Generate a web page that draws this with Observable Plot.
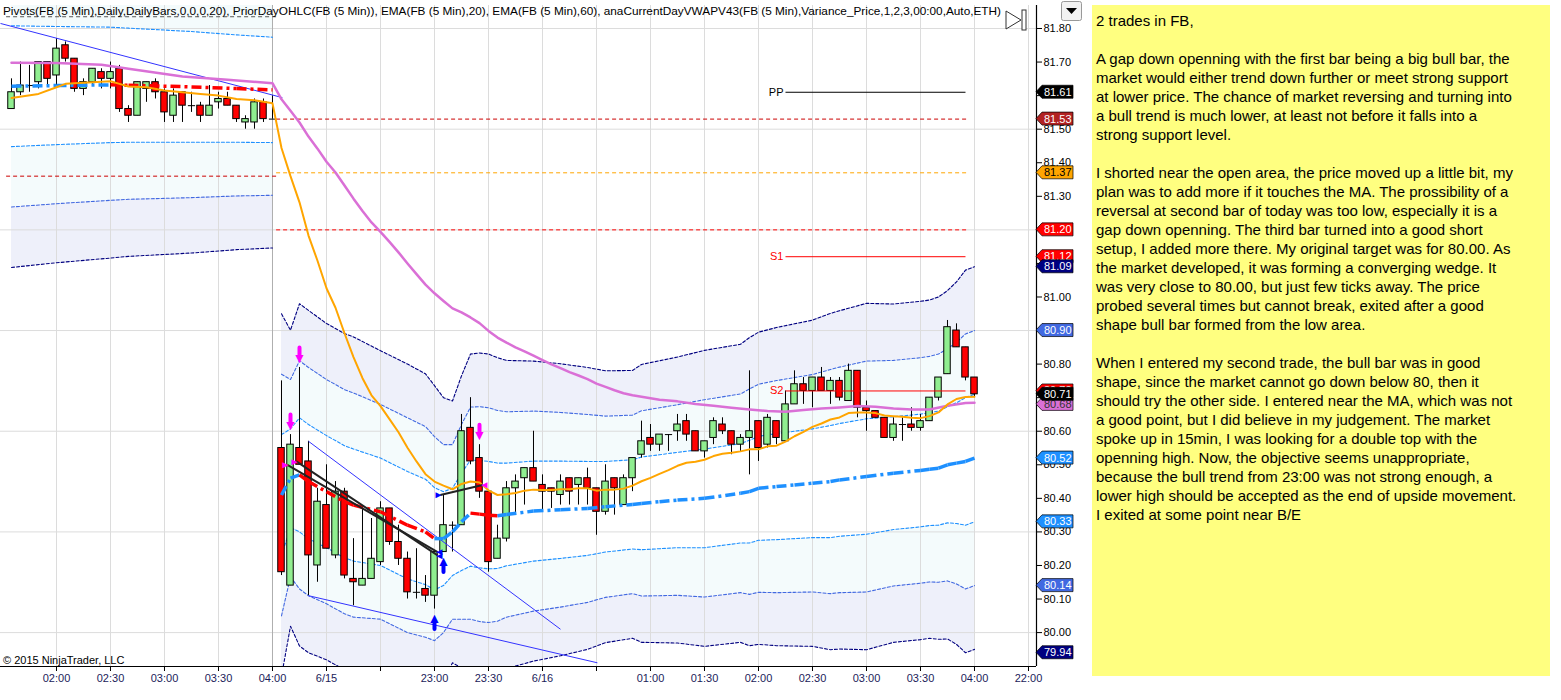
<!DOCTYPE html>
<html><head><meta charset="utf-8">
<script src="https://cdn.jsdelivr.net/npm/d3@7"></script>
<script src="https://cdn.jsdelivr.net/npm/@observablehq/plot@0.6"></script>
<style>
body{margin:0;background:#fff;font-family:"Liberation Sans",Arial,sans-serif;}
#wrap{position:relative;width:1561px;height:700px;overflow:hidden;background:#fff}
#chart{position:absolute;left:0;top:0}
#overlay{position:absolute;left:0;top:0}
#copy{position:absolute;left:3px;top:654px;font:11px "Liberation Sans",Arial,sans-serif;color:#000;white-space:nowrap}
#note{position:absolute;left:1092px;top:5px;width:458px;height:671px;background:#FFFF80;box-sizing:border-box;padding:6px 0 0 4px;font:15px/19px "Liberation Sans",Arial,sans-serif;white-space:pre;color:#000;overflow:hidden}
</style></head>
<body>
<div id="wrap">
<div id="chart"></div>
<svg id="overlay" width="1090" height="40" style="pointer-events:none">
 <text x="3" y="15" font-family="Liberation Sans, Arial, sans-serif" font-size="11" fill="#000" textLength="998" lengthAdjust="spacingAndGlyphs">Pivots(FB (5 Min),Daily,DailyBars,0,0,0,20), PriorDayOHLC(FB (5 Min)), EMA(FB (5 Min),20), EMA(FB (5 Min),60), anaCurrentDayVWAPV43(FB (5 Min),Variance_Price,1,2,3,00:00,Auto,ETH)</text>
 <polygon points="1006,11 1021,20 1006,29" fill="#fff" stroke="#333" stroke-width="1"/>
 <rect x="1022" y="10" width="4" height="20" fill="#fff" stroke="#333" stroke-width="1"/>
 <rect x="1061.5" y="1.5" width="20" height="19" rx="2" fill="#F2F2F2" stroke="#999"/>
 <polygon points="1066,8 1077,8 1071.5,14" fill="#000"/>
</svg>
<div id="copy">© 2015 NinjaTrader, LLC</div>
<div id="note"></div>
</div>
<script>
// ---------------- data ----------------
const opens = [81.56,81.61,81.63,81.64,81.70,81.66,81.75,81.71,81.62,81.64,81.67,81.65,81.68,81.56,81.54,81.62,81.64,81.61,81.54,81.61,81.57,81.57,81.54,81.58,81.59,81.57,81.52,81.52,81.58,81.53,
80.55,80.14,80.55,80.51,80.20,80.38,80.23,80.42,80.16,80.14,80.16,80.21,80.37,80.27,80.22,80.12,80.13,80.11,80.24,80.32,80.32,80.61,80.52,80.42,80.22,80.28,80.43,80.46,80.49,80.44,80.43,80.41,80.46,80.44,80.46,80.43,80.36,80.46,80.38,80.46,80.53,80.58,80.56,80.59,80.60,80.63,80.60,80.54,80.58,80.62,80.60,80.56,80.58,80.63,80.56,80.63,80.57,80.68,80.74,80.72,80.76,80.72,80.75,80.69,80.78,80.67,80.66,80.64,80.58,80.62,80.62,80.61,80.63,80.70,80.77,80.90,80.85,80.76];
const highs = [81.65,81.70,81.69,81.70,81.70,81.77,81.76,81.71,81.65,81.68,81.68,81.70,81.69,81.57,81.64,81.64,81.65,81.62,81.62,81.61,81.61,81.58,81.63,81.61,81.61,81.57,81.54,81.59,81.59,81.60,
80.75,80.59,80.79,80.57,80.43,80.50,80.45,80.43,80.28,80.37,80.34,80.39,80.37,80.32,80.24,80.25,80.17,80.24,80.41,80.33,80.65,80.70,80.56,80.42,80.32,80.45,80.47,80.49,80.60,80.47,80.43,80.47,80.46,80.46,80.49,80.43,80.50,80.46,80.47,80.52,80.63,80.62,80.59,80.59,80.65,80.65,80.60,80.57,80.64,80.64,80.60,80.59,80.78,80.63,80.65,80.63,80.72,80.78,80.76,80.76,80.79,80.76,80.76,80.80,80.78,80.69,80.66,80.64,80.64,80.64,80.67,80.65,80.70,80.76,80.93,80.92,80.85,80.76];
const lows = [81.56,81.60,81.61,81.62,81.63,81.63,81.70,81.61,81.60,81.63,81.62,81.62,81.55,81.52,81.54,81.58,81.59,81.52,81.52,81.52,81.55,81.52,81.54,81.56,81.57,81.52,81.50,81.50,81.52,81.53,
80.17,80.14,80.50,80.11,80.15,80.25,80.22,80.16,80.08,80.14,80.16,80.20,80.26,80.20,80.10,80.10,80.09,80.07,80.24,80.24,80.32,80.50,80.40,80.18,80.22,80.27,80.35,80.38,80.45,80.36,80.37,80.38,80.38,80.38,80.38,80.29,80.35,80.35,80.38,80.42,80.52,80.54,80.54,80.54,80.57,80.57,80.54,80.52,80.56,80.59,80.53,80.54,80.47,80.51,80.55,80.56,80.57,80.68,80.68,80.67,80.72,80.68,80.69,80.69,80.64,80.60,80.64,80.58,80.57,80.57,80.60,80.60,80.63,80.69,80.77,80.85,80.75,80.70];
const closes = [81.61,81.63,81.63,81.70,81.65,81.74,81.71,81.62,81.64,81.68,81.65,81.67,81.56,81.54,81.64,81.64,81.61,81.55,81.60,81.57,81.57,81.54,81.57,81.59,81.57,81.53,81.53,81.58,81.53,81.53,
80.18,80.56,80.50,80.23,80.39,80.25,80.42,80.17,80.15,80.16,80.22,80.37,80.27,80.22,80.12,80.12,80.11,80.24,80.32,80.32,80.60,80.51,80.42,80.21,80.28,80.43,80.45,80.49,80.45,80.42,80.42,80.45,80.42,80.46,80.43,80.36,80.45,80.43,80.46,80.52,80.57,80.56,80.59,80.59,80.62,80.59,80.54,80.57,80.63,80.60,80.56,80.58,80.60,80.55,80.64,80.58,80.68,80.74,80.72,80.76,80.72,80.75,80.70,80.78,80.67,80.66,80.64,80.58,80.62,80.62,80.61,80.63,80.70,80.76,80.91,80.85,80.76,80.71];
const sessionStartBar = 30; // first bar of 6/15 session

// EMA(20) orange
const ema20Bars = [0,3,5,6,9,11,12,13,15,17,19,21,23,25,27,29,
30,31,32,33,34,35,36,37,38,39,40,41,42,43,44,45,46,47,48,49,50,51,52,53,54,55,56,57,58,59,60,61,62,63,64,65,66,67,68,69,70,71,72,73,74,75,76,77,78,79,80,81,82,83,84,85,86,87,88,89,90,91,92,93,94,95,96,97,98,99,100,101,102,103,104,105,106,107];
const ema20Values = [81.593,81.605,81.625,81.635,81.640,81.643,81.635,81.627,81.625,81.615,81.610,81.605,81.600,81.590,81.586,81.577,
81.444,81.360,81.282,81.183,81.108,81.026,80.968,80.892,80.821,80.758,80.707,80.675,80.636,80.597,80.551,80.510,80.472,80.450,80.438,80.427,80.443,80.450,80.447,80.424,80.410,80.412,80.416,80.423,80.426,80.425,80.425,80.427,80.427,80.430,80.430,80.423,80.426,80.426,80.429,80.438,80.451,80.461,80.473,80.484,80.497,80.506,80.509,80.515,80.526,80.533,80.536,80.540,80.546,80.546,80.555,80.557,80.569,80.585,80.598,80.613,80.623,80.635,80.641,80.654,80.656,80.656,80.654,80.647,80.645,80.643,80.640,80.639,80.645,80.656,80.680,80.696,80.702,80.703];

// EMA(60) violet
const ema60Bars = [0,5,10,13,19,24,29,
30,31,32,33,34,35,36,37,38,39,40,41,42,43,44,45,46,47,48,49,50,51,52,53,54,55,56,57,58,59,60,61,62,63,64,65,66,67,68,69,70,72,74,76,78,80,82,84,86,88,90,92,94,96,98,100,102,104,106,107];
const ema60Values = [81.698,81.697,81.692,81.680,81.657,81.647,81.637,
81.589,81.555,81.520,81.478,81.442,81.403,81.371,81.332,81.293,81.256,81.222,81.194,81.164,81.133,81.100,81.068,81.037,81.011,80.988,80.966,80.954,80.939,80.922,80.899,80.879,80.864,80.850,80.838,80.825,80.812,80.799,80.788,80.776,80.766,80.755,80.742,80.732,80.722,80.713,80.707,80.703,80.694,80.689,80.681,80.676,80.670,80.665,80.660,80.658,80.663,80.668,80.671,80.675,80.673,80.668,80.665,80.665,80.676,80.684,80.685];

// Current-day VWAP and its standard deviation (bands at 1, 2, 3 sd)
const vwapBars = [0,5,11,13,20,25,29,
30,31,32,33,35,37,38,41,44,46,47,48,49,50,51,52,53,54,55,58,61,64,66,69,70,72,74,77,81,82,83,85,87,89,91,92,95,98,101,102,103,104,105,106,107];
const vwapValues = [81.628,81.630,81.632,81.631,81.626,81.621,81.617,
80.41,80.46,80.47,80.45,80.42,80.39,80.38,80.36,80.32,80.30,80.28,80.28,80.30,80.33,80.356,80.353,80.350,80.348,80.352,80.362,80.366,80.370,80.375,80.382,80.385,80.390,80.395,80.400,80.415,80.420,80.430,80.435,80.440,80.445,80.450,80.455,80.465,80.475,80.483,80.487,80.490,80.500,80.505,80.510,80.520];
const vwapSd = [0.180,0.176,0.172,0.170,0.165,0.160,0.157,
0.180,0.147,0.170,0.170,0.167,0.167,0.167,0.160,0.160,0.157,0.152,0.140,0.130,0.145,0.158,0.160,0.160,0.157,0.153,0.149,0.145,0.140,0.135,0.133,0.138,0.140,0.142,0.147,0.148,0.153,0.155,0.158,0.160,0.162,0.167,0.168,0.172,0.168,0.168,0.168,0.170,0.173,0.180,0.190,0.190];

// Prior-day OHLC levels (dashed)
const levelPrices = [81.835, 81.36, 81.53, 81.37, 81.20];
const levelFrom   = [-0.6, -0.6, 29.4, 29.4, 29.4];
const levelTo     = [29.4, 29.4, 106.3, 106.3, 106.3];
const levelColors = ["#555555", "#CC0000", "#CC0000", "#FFA500", "#FF0000"];

// Daily pivots
const pivotNames  = ["PP", "S1", "S2"];
const pivotPrices = [81.61, 81.12, 80.72];
const pivotColors = ["#000000", "#FF0000", "#FF0000"];
const pivotFrom = 86, pivotTo = 106;

// Drawn trend lines
const trendFromBar = [-1.222, 33, 33];
const trendFromPrice = [81.815, 80.57, 80.11];
const trendToBar = [30.1, 61, 65.1];
const trendToPrice = [81.594, 80.01, 79.91];

// Trades
const tradeEntryBars = [31, 32, 48];
const tradeEntryPrices = [80.50, 80.51, 80.41];
const tradeExitBars = [47, 47, 52];
const tradeExitPrices = [80.24, 80.23, 80.44];
const tradeSides = ["short", "short", "long"];
const sellArrowBars = [31, 32, 52];
const buyArrowBars = [47, 48];

// Axes
const tickBars = [5,11,17,23,29,35,41,47,53,59,65,71,77,83,89,95,101,107,113];
const tickLabels = ["02:00","02:30","03:00","03:30","04:00","6/15","","23:00","23:30","6/16","","01:00","01:30","02:00","02:30","03:00","03:30","04:00","22:00"];
const priceTicks = [80.0,80.1,80.2,80.3,80.4,80.5,80.6,80.7,80.8,80.9,81.0,81.1,81.2,81.3,81.4,81.5,81.6,81.7,81.8];
const priceGrid = [80.0,80.3,80.6,80.9,81.2,81.5,81.8];

// Right-axis price markers (drawn in this order)
const flagPrices = [81.61, 81.53, 81.37, 81.20, 81.12, 81.09, 80.90, 80.68, 80.72, 80.71, 80.52, 80.33, 80.14, 79.94];
const flagFills  = ["#000000","#B22222","#FFA500","#FF0000","#FF0000","#000080","#4169E1","#DA70D6","#FF0000","#000000","#1E90FF","#1E90FF","#4169E1","#000080"];
const flagInk    = ["#fff","#fff","#000","#fff","#fff","#fff","#fff","#333","#fff","#fff","#fff","#fff","#fff","#fff"];

const noteLines = [
"2 trades in FB,",
"",
"A gap down openning with the first bar being a big bull bar, the",
"market would either trend down further or meet strong support",
"at lower price. The chance of market reversing and turning into",
"a bull trend is much lower, at least not before it falls into a",
"strong support level.",
"",
"I shorted near the open area, the price moved up a little bit, my",
"plan was to add more if it touches the MA. The prossibility of a",
"reversal at second bar of today was too low, especially it is a",
"gap down openning. The third bar turned into a good short",
"setup, I added more there. My original target was for 80.00. As",
"the market developed, it was forming a converging wedge. It",
"was very close to 80.00, but just few ticks away. The price",
"probed several times but cannot break, exited after a good",
"shape bull bar formed from the low area.",
"",
"When I entered my second trade, the bull bar was in good",
"shape, since the market cannot go down below 80, then it",
"should try the other side. I entered near the MA, which was not",
"a good point, but I did believe in my judgement. The market",
"spoke up in 15min, I was looking for a double top with the",
"openning high. Now, the objective seems unappropriate,",
"because the bull trend from 23:00 was not strong enough, a",
"lower high should be accepted as the end of upside movement.",
"I exited at some point near B/E"
];

// ---------------- layout ----------------
const xDomain = [-1.222, 113.889];
const yDomain = [79.899, 81.8685];
const SELL = "#FF00FF", BUY = "#0000FF";

const bars = opens.map((o, i) => ({i, o, h: highs[i], l: lows[i], c: closes[i]}));
const ema20 = ema20Bars.map((b, k) => ({b, v: ema20Values[k]}));
const ema60 = ema60Bars.map((b, k) => ({b, v: ema60Values[k]}));
const vw = vwapBars.map((b, k) => ({b, s: b < sessionStartBar ? 1 : 2, v: vwapValues[k], sd: vwapSd[k]}));
const vwSeg = [];
for (let k = 1; k < vw.length; k++) {
  if (vw[k].s !== vw[k-1].s) continue;
  vwSeg.push({x1: vw[k-1].b, y1: vw[k-1].v, x2: vw[k].b, y2: vw[k].v, falling: vw[k].v < vw[k-1].v});
}
const levels = levelPrices.map((p, k) => ({p, a: levelFrom[k], b: levelTo[k], c: levelColors[k]}));
const pivots = pivotNames.map((n, k) => ({n, p: pivotPrices[k], c: pivotColors[k]}));
const trends = trendFromBar.map((a, k) => ({a, pa: trendFromPrice[k], b: trendToBar[k], pb: trendToPrice[k]}));
const trades = tradeEntryBars.map((b, k) => ({eb: b, ep: tradeEntryPrices[k], xb: tradeExitBars[k], xp: tradeExitPrices[k], side: tradeSides[k]}));
const sellArrows = sellArrowBars.map(b => ({b, p: highs[b]}));
const buyArrows = buyArrowBars.map(b => ({b, p: lows[b]}));
// axis labels that sit fully under a price flag are not visible in the chart
const visibleTicks = priceTicks.filter(t => !flagPrices.some(f => Math.abs(f - t) < 0.015));

const band = (k) => Plot.line(vw, {x: "b", y: d => d.v + k * d.sd, z: "s",
  stroke: Math.abs(k) === 3 ? "#000080" : Math.abs(k) === 2 ? "#4169E1" : "#1E90FF",
  strokeWidth: 1.1, strokeDasharray: "3,2", clip: true});

const plot = Plot.plot({
  width: 1090, height: 700,
  marginLeft: 0, marginRight: 54, marginTop: 5, marginBottom: 34,
  style: {fontFamily: '"Liberation Sans", Arial, sans-serif', fontSize: "11px", background: "transparent", overflow: "visible"},
  x: {domain: xDomain},
  y: {domain: yDomain},
  color: {type: "identity"},
  marks: [
    // band fills
    Plot.areaY(vw, {x: "b", y1: d => d.v + d.sd, y2: d => d.v + 2 * d.sd, z: "s", fill: "#F4FBFC", clip: true}),
    Plot.areaY(vw, {x: "b", y1: d => d.v - d.sd, y2: d => d.v - 2 * d.sd, z: "s", fill: "#F4FBFC", clip: true}),
    Plot.areaY(vw, {x: "b", y1: d => d.v + 2 * d.sd, y2: d => d.v + 3 * d.sd, z: "s", fill: "#EEF0FA", clip: true}),
    Plot.areaY(vw, {x: "b", y1: d => d.v - 2 * d.sd, y2: d => d.v - 3 * d.sd, z: "s", fill: "#EEF0FA", clip: true}),
    // grid
    Plot.ruleY(priceGrid, {stroke: "#DCDCDC"}),
    Plot.ruleX(tickBars, {stroke: "#DCDCDC"}),
    Plot.ruleX([sessionStartBar - 1], {stroke: "#AFAFAF"}),
    // axes
    Plot.axisY(priceTicks, {anchor: "right", tickFormat: null, text: null, tickSize: 5, label: null, stroke: "#000"}),
    Plot.axisY(visibleTicks, {anchor: "right", tickFormat: d3.format(".2f"), tickSize: 0, tickPadding: 7, label: null, fontSize: 11, fill: "#000"}),
    Plot.axisX(tickBars, {anchor: "bottom", tickFormat: d => tickLabels[tickBars.indexOf(d)], tickSize: 5, tickPadding: 3, label: null, fontSize: 11, stroke: "#000", fill: "#1c1c5a"}),
    Plot.ruleY([yDomain[0]], {stroke: "#000", strokeWidth: 1.2}),
    Plot.ruleX([xDomain[1]], {stroke: "#000", strokeWidth: 1.2}),
    // prior day levels
    Plot.link(levels, {x1: "a", x2: "b", y1: "p", y2: "p", stroke: "c", strokeWidth: 1, strokeDasharray: "4,3", clip: true}),
    // bands
    band(3), band(2), band(1), band(-1), band(-2), band(-3),
    // candles
    Plot.ruleX(bars, {x: "i", y1: "l", y2: "h", stroke: "#000", strokeWidth: 1}),
    Plot.rect(bars.filter(d => d.o !== d.c), {x1: d => d.i - 0.36, x2: d => d.i + 0.36, y1: "o", y2: "c",
      fill: d => d.c > d.o ? "#90EE90" : "#FF0000", stroke: "#000", strokeWidth: 1}),
    Plot.link(bars.filter(d => d.o === d.c), {x1: d => d.i - 0.4, x2: d => d.i + 0.4, y1: "c", y2: "c", stroke: "#000", strokeWidth: 1}),
    // trendlines
    Plot.link(trends, {x1: "a", y1: "pa", x2: "b", y2: "pb", stroke: "#3333FF", strokeWidth: 1, clip: true}),
    // VWAP
    Plot.link(vwSeg, {x1: "x1", y1: "y1", x2: "x2", y2: "y2", stroke: d => d.falling ? "#FF0000" : "#1E90FF", strokeWidth: 3.5, strokeDasharray: "10,4,3,4"}),
    // EMAs
    Plot.line(ema60, {x: "b", y: "v", stroke: "#DA70D6", strokeWidth: 2.5}),
    Plot.line(ema20, {x: "b", y: "v", stroke: "#FFA500", strokeWidth: 2}),
    // trades
    Plot.link(trades, {x1: d => d.eb - 0.35, y1: "ep", x2: d => d.xb + 0.35, y2: "xp", stroke: "#222", strokeWidth: 2}),
    Plot.text(trades, {x: "eb", y: "ep", text: () => "►", fill: d => d.side === "short" ? SELL : BUY, fontSize: 10, dx: -5}),
    Plot.text(trades, {x: "xb", y: "xp", text: () => "◄", fill: d => d.side === "short" ? BUY : SELL, fontSize: 10, dx: 5}),
    // signal arrows: shaft + head
    Plot.vector(sellArrows, {x: "b", y: "p", rotate: 180, anchor: "end", length: 7, r: 0.01, shape: "arrow", stroke: SELL, strokeWidth: 4, dy: -13}),
    Plot.text(sellArrows, {x: "b", y: "p", text: () => "▼", fill: SELL, fontSize: 14, dy: -9}),
    Plot.vector(buyArrows, {x: "b", y: "p", rotate: 0, anchor: "end", length: 7, r: 0.01, shape: "arrow", stroke: BUY, strokeWidth: 4, dy: 13}),
    Plot.text(buyArrows, {x: "b", y: "p", text: () => "▲", fill: BUY, fontSize: 14, dy: 9}),
    // pivots
    Plot.link(pivots, {x1: () => pivotFrom, x2: () => pivotTo, y1: "p", y2: "p", stroke: "c", strokeWidth: 1}),
    Plot.text(pivots, {x: () => pivotFrom, y: "p", text: "n", fill: "c", textAnchor: "end", dx: -2, fontSize: 11})
  ]
});
document.getElementById("chart").appendChild(plot);

// price flags on the right axis, placed with Plot's own scales
const sy = plot.scale("y"), sx = plot.scale("x");
const yAt = sy.apply ? sy.apply : d3.scaleLinear(sy.domain, sy.range);
const xAt = sx.apply ? sx.apply : d3.scaleLinear(sx.domain, sx.range);
const ax = xAt(xDomain[1]);
const fg = d3.select(plot).append("g").attr("font-family", "Liberation Sans, Arial, sans-serif").attr("font-size", 11).attr("text-anchor", "start");
flagPrices.forEach((p, k) => {
  const yy = yAt(p);
  fg.append("path").attr("d", `M${ax},${yy}l6,-6.5h31v13h-31z`).attr("fill", flagFills[k]).attr("stroke", "#000").attr("stroke-width", 0.7);
  fg.append("text").attr("x", ax + 8).attr("y", yy + 4).attr("text-anchor", "start").attr("fill", flagInk[k]).text(p.toFixed(2));
});

document.getElementById("note").textContent = noteLines.join("\n");
</script>
</body></html>
